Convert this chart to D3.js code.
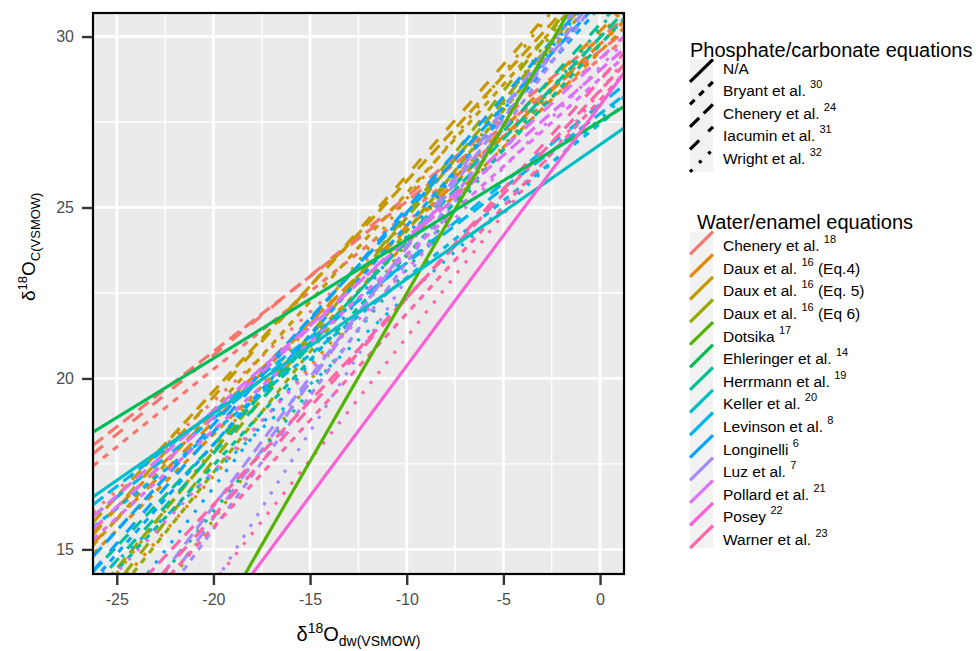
<!DOCTYPE html>
<html><head><meta charset="utf-8">
<script src="https://cdn.jsdelivr.net/npm/d3@7"></script>
<style>html,body{margin:0;padding:0;background:#fff;}svg{display:block;font-family:"Liberation Sans",Arial,sans-serif;}</style>
</head><body>
<svg id="chart" width="976" height="651"></svg>
<script>
// ---------------- data ----------------
const xTicks = [-25, -20, -15, -10, -5, 0];
const yTicks = [15, 20, 25, 30];
const xMinor = [-22.5, -17.5, -12.5, -7.5, -2.5];
const yMinor = [17.5, 22.5, 27.5];
const xDomain = [-26.23, 1.24];
const yDomain = [14.28, 30.69];

// water/enamel equations (legend order)
const waterNames = ["Chenery et al.", "Daux et al.", "Daux et al.", "Daux et al.", "Dotsika", "Ehleringer et al.", "Herrmann et al.", "Keller et al.", "Levinson et al.", "Longinelli", "Luz et al.", "Pollard et al.", "Posey", "Warner et al."];
const waterRefs = ["18", "16", "16", "16", "17", "14", "19", "20", "8", "6", "7", "21", "22", "23"];
const waterSuffix = ["", "(Eq.4)", "(Eq. 5)", "(Eq 6)", "", "", "", "", "", "", "", "", "", ""];
// "P": gives phosphate d18Op = a*dw + b ; "C": gives carbonate d18Oc = a*dw + b directly
const waterKind = ["P", "P", "P", "P", "C", "C", "P", "C", "P", "P", "P", "P", "C", "P"];
const waterSlope = [0.454, 0.56, 0.635, 0.706, 0.982, 0.3466, 0.615, 0.393, 0.45, 0.64, 0.78, 0.514, 0.762, 0.625];
const waterIntercept = [20.85, 21.06, 23.27, 22.87, 32.31, 27.52, 21.26, 26.84, 18.95, 22.37, 22.7, 20.27, 27.99, 19.65];

// phosphate -> carbonate conversions: d18Oc = c*d18Op + d
const convNames = ["N/A", "Bryant et al.", "Chenery et al.", "Iacumin et al.", "Wright et al."];
const convRefs = ["", "30", "24", "31", "32"];
const convSlope = [null, 1.0, 0.9688, 1.0204, 1.15];
const convIntercept = [null, 8.5, 9.3827, 8.6735, 5.8];

// ---------------- style helpers ----------------
function hueColor(h, c = 100, l = 65) {
  const Yn = 100, un = 0.1978398, vn = 0.4683363;
  const hr = h * Math.PI / 180;
  const U = c * Math.cos(hr), V = c * Math.sin(hr);
  const Y = Yn * (l > 8 ? Math.pow((l + 16) / 116, 3) : l / 903.3);
  const u = U / (13 * l) + un, v = V / (13 * l) + vn;
  const X = 9 * Y * u / (4 * v);
  const Z = (9 * Y / v - X - 15 * Y) / 3;
  const x = X / 100, y = Y / 100, z = Z / 100;
  let r = 3.240479 * x - 1.537150 * y - 0.498535 * z;
  let g = -0.969256 * x + 1.875992 * y + 0.041556 * z;
  let b = 0.055648 * x - 0.204043 * y + 1.057311 * z;
  const gt = t => t > 0.00304 ? 1.055 * Math.pow(t, 1 / 2.4) - 0.055 : 12.92 * t;
  const cl = t => Math.max(0, Math.min(1, t));
  return d3.rgb(cl(gt(r)) * 255, cl(gt(g)) * 255, cl(gt(b)) * 255).formatHex();
}
const nW = waterNames.length;
const colors = d3.range(nW).map(i => hueColor((15 + 360 * i / nW) % 360));
const LW = 3.2;
const dashUnits = ["", "2 2", "4 2", "4 4", "1 3"];
const dashFor = i => dashUnits[i] ? dashUnits[i].split(" ").map(v => +v * LW).join(" ") : null;

// ---------------- layout ----------------
const svg = d3.select("#chart");
const P = {left: 93, right: 624, top: 13, bottom: 574};
const x = d3.scaleLinear().domain(xDomain).range([P.left, P.right]);
const y = d3.scaleLinear().domain(yDomain).range([P.bottom, P.top]);

svg.append("defs").append("clipPath").attr("id", "clip")
  .append("rect").attr("x", P.left).attr("y", P.top).attr("width", P.right - P.left).attr("height", P.bottom - P.top);

svg.append("rect").attr("x", P.left).attr("y", P.top).attr("width", P.right - P.left).attr("height", P.bottom - P.top).attr("fill", "#EBEBEB");

const grid = svg.append("g");
grid.selectAll(".vmin").data(xMinor).join("line").attr("x1", d => x(d)).attr("x2", d => x(d)).attr("y1", P.top).attr("y2", P.bottom).attr("stroke", "#fff").attr("stroke-width", 1.4);
grid.selectAll(".hmin").data(yMinor).join("line").attr("y1", d => y(d)).attr("y2", d => y(d)).attr("x1", P.left).attr("x2", P.right).attr("stroke", "#fff").attr("stroke-width", 1.4);
grid.selectAll(".vmaj").data(xTicks).join("line").attr("x1", d => x(d)).attr("x2", d => x(d)).attr("y1", P.top).attr("y2", P.bottom).attr("stroke", "#fff").attr("stroke-width", 2.8);
grid.selectAll(".hmaj").data(yTicks).join("line").attr("y1", d => y(d)).attr("y2", d => y(d)).attr("x1", P.left).attr("x2", P.right).attr("stroke", "#fff").attr("stroke-width", 2.8);

// build abline table
const lines = [];
for (let w = 0; w < nW; w++) {
  if (waterKind[w] === "C") continue;
  for (let k = 1; k < convNames.length; k++) {
    lines.push({w, k, slope: convSlope[k] * waterSlope[w], intercept: convSlope[k] * waterIntercept[w] + convIntercept[k]});
  }
}
for (let w = 0; w < nW; w++) {
  if (waterKind[w] !== "C") continue;
  lines.push({w, k: 0, slope: waterSlope[w], intercept: waterIntercept[w]});
}

const gl = svg.append("g").attr("clip-path", "url(#clip)");
gl.selectAll("line.ab").data(lines).join("line").attr("class", "ab")
  .attr("x1", x(xDomain[0])).attr("x2", x(xDomain[1]))
  .attr("y1", d => y(d.slope * xDomain[0] + d.intercept))
  .attr("y2", d => y(d.slope * xDomain[1] + d.intercept))
  .attr("stroke", d => colors[d.w]).attr("stroke-width", LW)
  .attr("stroke-dasharray", d => dashFor(d.k)).attr("stroke-linecap", "butt");

// panel border
svg.append("rect").attr("x", P.left).attr("y", P.top).attr("width", P.right - P.left).attr("height", P.bottom - P.top).attr("fill", "none").attr("stroke", "#000").attr("stroke-width", 2.2);

// axes
const xAxis = d3.axisBottom(x).tickValues(xTicks).tickSize(10).tickPadding(9).tickFormat(d3.format("d"));
const yAxis = d3.axisLeft(y).tickValues(yTicks).tickSize(10).tickPadding(8).tickFormat(d3.format("d"));
const gx = svg.append("g").attr("transform", `translate(0,${P.bottom + 1})`).call(xAxis);
const gy = svg.append("g").attr("transform", `translate(${P.left - 1},0)`).call(yAxis);
[gx, gy].forEach(g => {
  g.select(".domain").remove();
  g.selectAll(".tick line").attr("stroke", "#333").attr("stroke-width", 2.4);
  g.selectAll(".tick text").attr("fill", "#4D4D4D").attr("font-size", 16).attr("font-family", "Liberation Sans, Arial, sans-serif");
});
gx.selectAll(".tick text").text(d => d < 0 ? "-" + Math.abs(d) : d);

// axis titles
const xt = svg.append("text").attr("x", (P.left + P.right) / 2).attr("y", 641).attr("text-anchor", "middle").attr("font-size", 20).attr("fill", "#000");
xt.append("tspan").text("δ");
xt.append("tspan").attr("font-size", 14).attr("dy", -8).text("18");
xt.append("tspan").attr("dy", 8).text("O");
xt.append("tspan").attr("font-size", 14).attr("dy", 5).text("dw(VSMOW)");

const yt = svg.append("text").attr("transform", "translate(35,301) rotate(-90)").attr("text-anchor", "start").attr("font-size", 19).attr("fill", "#000");
yt.append("tspan").text("δ");
yt.append("tspan").attr("font-size", 13).attr("dy", -8).text("18");
yt.append("tspan").attr("dy", 8).text("O");
yt.append("tspan").attr("font-size", 13).attr("dy", 5).text("C(VSMOW)");

// legends
function label(g, xx, yy, name, ref, suffix) {
  const t = g.append("text").attr("x", xx).attr("y", yy).attr("font-size", 15.5).attr("fill", "#000");
  t.append("tspan").text(name + " ");
  if (ref) {
    t.append("tspan").attr("font-size", 11).attr("dy", -8).text(ref);
    if (suffix) t.append("tspan").attr("dy", 8).text(" " + suffix);
  }
}
const leg1 = svg.append("g");
leg1.append("text").attr("x", 690).attr("y", 57).attr("font-size", 20).text("Phosphate/carbonate equations");
const k1 = {x: 690, w: 23, top: 59.3, h: 22.5};
leg1.append("rect").attr("x", k1.x).attr("y", k1.top).attr("width", k1.w).attr("height", k1.h * convNames.length).attr("fill", "#F2F2F2");
convNames.forEach((n, i) => {
  const t = k1.top + i * k1.h;
  leg1.append("line").attr("x1", k1.x).attr("y1", t + k1.h).attr("x2", k1.x + k1.w).attr("y2", t)
    .attr("stroke", "#000").attr("stroke-width", LW).attr("stroke-dasharray", dashFor(i));
  label(leg1, 723, t + 14.3, n, convRefs[i], "");
});

const leg2 = svg.append("g");
leg2.append("text").attr("x", 697).attr("y", 229).attr("font-size", 20).text("Water/enamel equations");
const k2 = {x: 690, w: 23, top: 231.7, h: 22.6};
leg2.append("rect").attr("x", k2.x).attr("y", k2.top).attr("width", k2.w).attr("height", k2.h * nW).attr("fill", "#F2F2F2");
waterNames.forEach((n, i) => {
  const t = k2.top + i * k2.h;
  leg2.append("line").attr("x1", k2.x).attr("y1", t + k2.h).attr("x2", k2.x + k2.w).attr("y2", t)
    .attr("stroke", colors[i]).attr("stroke-width", LW);
  label(leg2, 723, t + 19.5, n, waterRefs[i], waterSuffix[i]);
});
</script>
</body></html>
